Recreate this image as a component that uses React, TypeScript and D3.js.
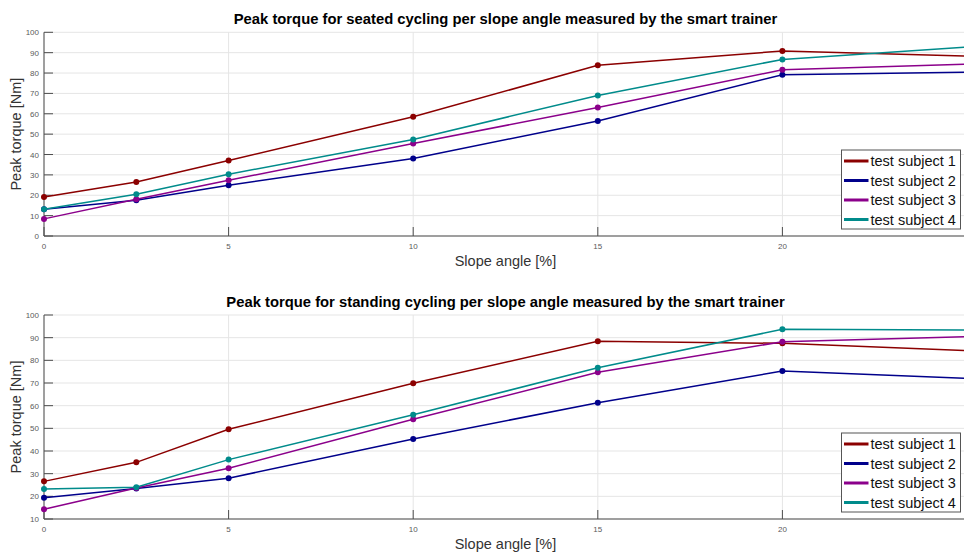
import React from "react";
import * as d3 from "d3";

// Slope angles (%) at which torque was measured
const slopes = [0, 2.5, 5, 10, 15, 20, 25];

const subjects = ["test subject 1", "test subject 2", "test subject 3", "test subject 4"];
const subjectColors = ["#8b0000", "#00008b", "#8b008b", "#008b8b"];

// Peak torque [Nm], seated cycling
const seated1 = [19.2, 26.5, 37.1, 58.5, 83.8, 90.8, 88.3];
const seated2 = [13.1, 17.5, 24.9, 38.0, 56.5, 79.2, 80.4];
const seated3 = [8.4, 18.0, 27.4, 45.4, 63.1, 81.6, 84.4];
const seated4 = [13.1, 20.5, 30.3, 47.4, 69.0, 86.7, 92.7];

// Peak torque [Nm], standing cycling
const standing1 = [26.6, 35.0, 49.6, 69.9, 88.4, 87.5, 84.3];
const standing2 = [19.4, 23.5, 28.0, 45.3, 61.3, 75.3, 72.0];
const standing3 = [14.3, 23.7, 32.4, 54.0, 74.7, 88.2, 90.4];
const standing4 = [23.2, 24.0, 36.2, 56.0, 76.7, 93.7, 93.4];

const xTicks = [0, 5, 10, 15, 20, 25];
const xTickLabels = [0, 5, 10, 15, 20];
const seatedYTicks = [0, 10, 20, 30, 40, 50, 60, 70, 80, 90, 100];
const standingYTicks = [10, 20, 30, 40, 50, 60, 70, 80, 90, 100];

const W = 964;
const H = 553;
const FONT = "'Liberation Sans', Arial, Helvetica, sans-serif";

type PanelProps = {
  title: string;
  series: number[][];
  yDomain: [number, number];
  yTicks: number[];
  top: number;
  bottom: number;
};

function Panel({ title, series, yDomain, yTicks, top, bottom }: PanelProps) {
  const left = 44;
  const right = 967;
  const x = d3.scaleLinear().domain([0, 25]).range([left, right]);
  const y = d3.scaleLinear().domain(yDomain).range([bottom, top]);
  const line = d3
    .line<number>()
    .x((_, i) => x(slopes[i]))
    .y((d) => y(d));

  const axisColor = "#4d4d4d";
  const gridColor = "#e5e5e5";
  const tickLen = 9;

  const legendX = 841.5;
  const legendY = bottom - 86;
  const rowH = 19.5;

  return (
    <g>
      {/* grid */}
      {yTicks.map((t) => (
        <line key={"gy" + t} x1={left} x2={right} y1={y(t)} y2={y(t)} stroke={gridColor} strokeWidth={1} />
      ))}
      {xTicks.map((t) => (
        <line key={"gx" + t} x1={x(t)} x2={x(t)} y1={top} y2={bottom} stroke={gridColor} strokeWidth={1} />
      ))}

      {/* axes */}
      <line x1={left} x2={left} y1={top} y2={bottom} stroke={axisColor} strokeWidth={1} />
      <line x1={left} x2={right} y1={bottom} y2={bottom} stroke={axisColor} strokeWidth={1} />
      {yTicks.map((t) => (
        <g key={"ty" + t}>
          <line x1={left} x2={left + tickLen} y1={y(t)} y2={y(t)} stroke={axisColor} strokeWidth={1} />
          <text x={left - 5} y={y(t) + 3} fontSize={8} fill="#5a5a5a" textAnchor="end" fontFamily={FONT}>
            {t}
          </text>
        </g>
      ))}
      {xTicks.map((t) => (
        <line key={"tx" + t} x1={x(t)} x2={x(t)} y1={bottom} y2={bottom - tickLen} stroke={axisColor} strokeWidth={1} />
      ))}
      {xTickLabels.map((t) => (
        <text key={"xl" + t} x={x(t)} y={bottom + 13} fontSize={8} fill="#5a5a5a" textAnchor="middle" fontFamily={FONT}>
          {t}
        </text>
      ))}

      {/* series */}
      {series.map((s, k) => (
        <g key={"s" + k}>
          <path d={line(s) || ""} fill="none" stroke={subjectColors[k]} strokeWidth={1.5} />
          {s.map((v, i) => (
            <circle key={i} cx={x(slopes[i])} cy={y(v)} r={3} fill={subjectColors[k]} />
          ))}
        </g>
      ))}

      {/* labels */}
      <text
        x={(left + right) / 2}
        y={top - 8}
        fontSize={14.8}
        fontWeight="bold"
        textAnchor="middle"
        fill="#000"
        fontFamily={FONT}
      >
        {title}
      </text>
      <text x={(left + right) / 2} y={bottom + 30} fontSize={14.5} textAnchor="middle" fill="#333" fontFamily={FONT}>
        Slope angle [%]
      </text>
      <text
        transform={`translate(21,${(top + bottom) / 2}) rotate(-90)`}
        fontSize={14.5}
        textAnchor="middle"
        fill="#333"
        fontFamily={FONT}
      >
        Peak torque [Nm]
      </text>

      {/* legend */}
      <rect x={legendX} y={legendY} width={119} height={79} fill="#fff" stroke="#555" strokeWidth={1} />
      {subjects.map((name, k) => {
        const cy = legendY + 11 + k * rowH;
        return (
          <g key={"l" + k}>
            <line x1={844} x2={868.5} y1={cy} y2={cy} stroke={subjectColors[k]} strokeWidth={3} />
            <text x={870.5} y={cy + 5} fontSize={14.5} fill="#111" fontFamily={FONT}>
              {name}
            </text>
          </g>
        );
      })}
    </g>
  );
}

export default function App() {
  return (
    <div style={{ position: "fixed", left: 0, top: 0, width: W, height: H, overflow: "hidden", background: "#fff" }}>
      <svg width={W} height={H} style={{ display: "block" }}>
        <rect width={W} height={H} fill="#fff" />
        <Panel
          title="Peak torque for seated cycling per slope angle measured by the smart trainer"
          series={[seated1, seated2, seated3, seated4]}
          yDomain={[0, 100]}
          yTicks={seatedYTicks}
          top={32.3}
          bottom={236}
        />
        <Panel
          title="Peak torque for standing cycling per slope angle measured by the smart trainer"
          series={[standing1, standing2, standing3, standing4]}
          yDomain={[10, 100]}
          yTicks={standingYTicks}
          top={315}
          bottom={519}
        />
      </svg>
    </div>
  );
}
